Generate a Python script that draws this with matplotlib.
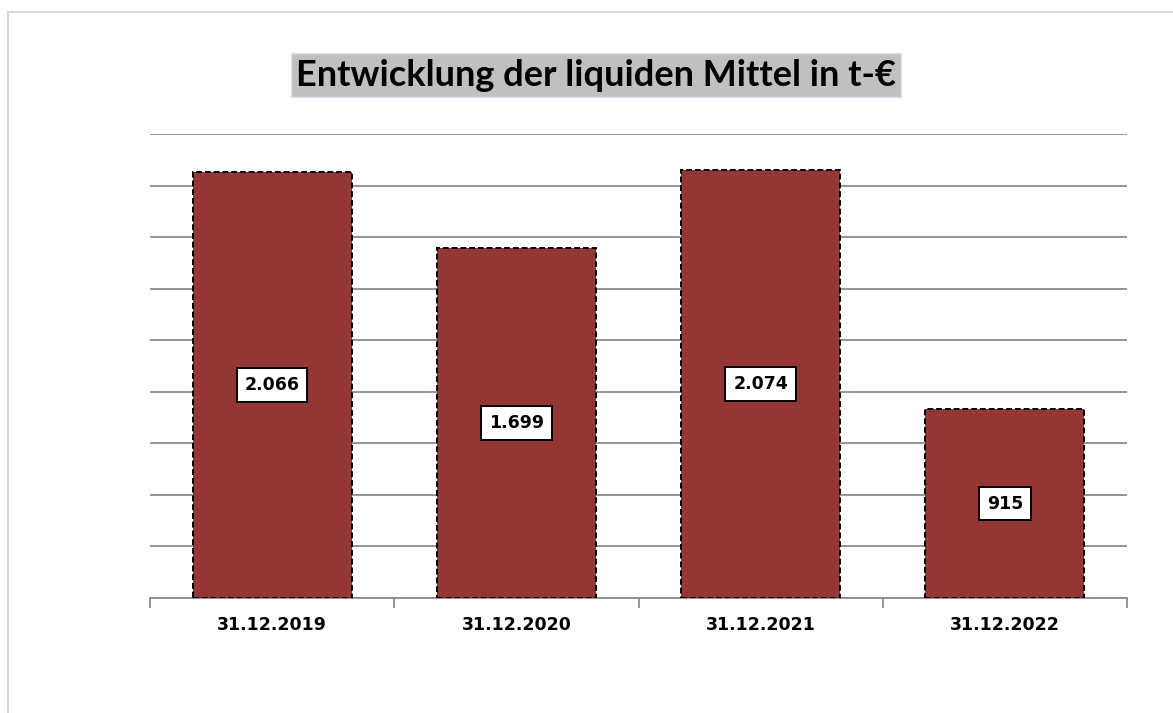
import matplotlib
matplotlib.use("Agg")
import matplotlib.pyplot as plt
from matplotlib.patches import Rectangle

# Daten
stichtage = ['31.12.2019', '31.12.2020', '31.12.2021', '31.12.2022']
liquide_mittel = [2066, 1699, 2074, 915]
labels = ['2.066', '1.699', '2.074', '915']

fig = plt.figure(figsize=(11.73, 7.13), dpi=100)
ax = fig.add_axes([150/1173, 1 - 598/713, 977/1173, 464/713])

# heller Rahmen um das Diagramm
fig.patches.append(Rectangle((8/1173, -0.1), 1.2, 1 - 12/713 + 0.1,
                             transform=fig.transFigure, fill=False,
                             edgecolor='#d9d9d9', linewidth=1.5))

x = range(len(stichtage))
bars = ax.bar(x, liquide_mittel, width=0.65, color='#943634',
              edgecolor='black', linestyle=(0, (3, 1.5)), linewidth=1.4, zorder=3)

for b, lab in zip(bars, labels):
    ax.text(b.get_x() + b.get_width() / 2, b.get_height() / 2, lab,
            ha='center', va='center', fontsize=12.5, fontweight='bold',
            family='DejaVu Sans', zorder=4,
            bbox=dict(boxstyle='square,pad=0.45', facecolor='white',
                      edgecolor='black', linewidth=1.4))

ax.set_xlim(-0.5, 3.5)
ax.set_ylim(0, 2250)
ax.set_yticks(range(0, 2251, 250))
ax.yaxis.grid(True, color='#8c8c8c', linewidth=1.3, zorder=0)
ax.tick_params(axis='y', left=False, labelleft=False)

ax.set_xticks([-0.5, 0.5, 1.5, 2.5, 3.5])
ax.set_xticklabels([])
ax.set_xticks(list(x), minor=True)
ax.set_xticklabels(stichtage, minor=True, fontsize=12.5, fontweight='bold',
                   family='DejaVu Sans')
ax.tick_params(axis='x', which='major', length=7, color='#8c8c8c', width=1.3)
ax.tick_params(axis='x', which='minor', length=0, pad=13)

for s in ['top', 'right', 'left']:
    ax.spines[s].set_visible(False)
ax.spines['bottom'].set_color('#8c8c8c')
ax.spines['bottom'].set_linewidth(1.3)

fig.text(596/1173, 1 - 75/713, 'Entwicklung der liquiden Mittel in t-€',
         ha='center', va='center', fontsize=26, fontweight='bold', family='Lato',
         bbox=dict(boxstyle='square,pad=0.15', facecolor='#c0c0c0',
                   edgecolor='#dde4f0', linewidth=1))

fig.savefig('out.png', dpi=100)
